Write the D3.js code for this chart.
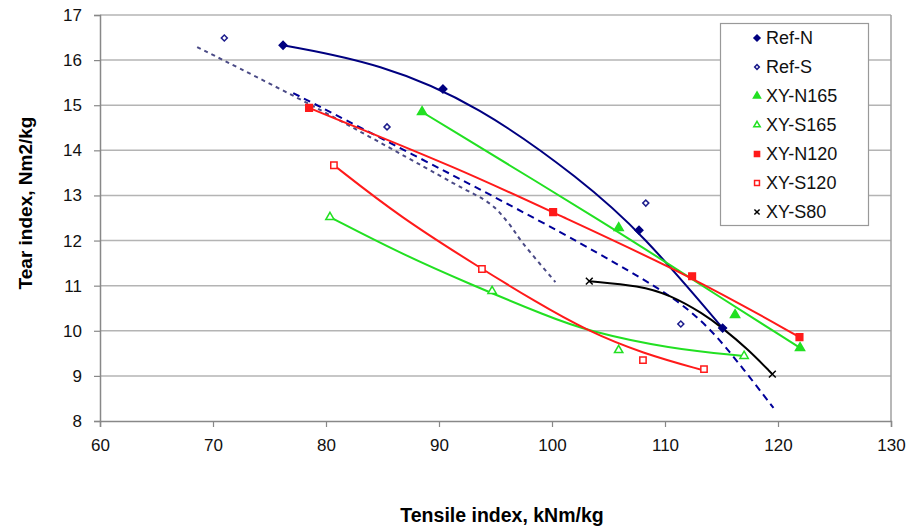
<!DOCTYPE html>
<html>
<head>
<meta charset="utf-8">
<script src="https://cdn.jsdelivr.net/npm/d3@7"></script>
<style>
  body { margin: 0; background: #fff; }
  text { font-family: "Liberation Sans", Arial, sans-serif; }
</style>
</head>
<body>
<script>
// chart size
var width = 914;
var height = 528;
var margin = {top: 15, right: 23, bottom: 107, left: 100};

// axis ticks
var xTicks = [60, 70, 80, 90, 100, 110, 120, 130];
var yTicks = [8, 9, 10, 11, 12, 13, 14, 15, 16, 17];

// measured points, [tensile, tear]
var refN = [[76.2, 16.33], [90.35, 15.36], [107.7, 12.23], [115.1, 10.06]];
var refS = [[71.0, 16.49], [85.4, 14.52], [108.3, 12.83], [111.4, 10.15]];
var xyN165 = [[88.5, 14.85], [105.9, 12.28], [116.2, 10.35], [121.95, 9.62]];
var xyS165 = [[80.35, 12.52], [94.7, 10.88], [105.9, 9.57], [117.0, 9.44]];
var xyN120 = [[78.5, 14.94], [100.1, 12.63], [112.4, 11.21], [121.9, 9.86]];
var xyS120 = [[80.7, 13.67], [93.8, 11.37], [108.05, 9.35], [113.45, 9.15]];
var xyS80 = [[103.3, 11.1], [119.5, 9.04]];

// trend lines
var trendRefN = [[76.2, 16.33], [84.8, 15.93], [93.5, 15.0], [102.6, 13.35], [108, 12.15], [115.1, 10.06]];
var trendRefS1 = [[68.6, 16.29], [78.85, 14.98], [91.2, 13.28], [94.6, 12.8], [96.1, 12.4], [97.4, 11.95], [100.3, 11.08]];
var trendRefS2 = [[77.1, 15.27], [92.1, 13.34], [101.3, 12.12], [107, 11.3], [111, 10.7], [114.0, 10.06], [116.8, 9.2], [119.6, 8.29]];
var trendN165 = [[88.5, 14.85], [105.9, 12.2], [110.7, 11.41], [121.95, 9.62]];
var trendS165 = [[80.35, 12.52], [86.55, 11.72], [92.5, 11.06], [99.8, 10.3], [103.1, 10.0], [110.4, 9.6], [117.0, 9.44]];
var trendN120 = [[78.5, 14.94], [92.1, 13.56], [100.1, 12.62], [112.4, 11.2], [121.9, 9.86]];
var trendS120 = [[80.7, 13.67], [86.55, 12.52], [93.8, 11.37], [98.5, 10.65], [103.1, 10.0], [108, 9.5], [113.45, 9.12]];
var trendS80 = [[103.3, 11.1], [107.8, 11.0], [110.4, 10.8], [113.4, 10.38], [115.1, 10.06], [117.3, 9.6], [119.5, 9.04]];

var legendNames = ['Ref-N', 'Ref-S', 'XY-N165', 'XY-S165', 'XY-N120', 'XY-S120', 'XY-S80'];

var navy = '#000080';
var green = '#22e022';
var red = '#ff1a1a';

var svg = d3.select('body')
  .append('svg')
  .attr('width', width)
  .attr('height', height);

var x = d3.scaleLinear().domain([60, 130]).range([margin.left, width - margin.right]);
var y = d3.scaleLinear().domain([8, 17]).range([height - margin.bottom, margin.top]);

// gridlines
svg.append('g')
  .selectAll('line')
  .data(yTicks.slice(1))
  .enter()
  .append('line')
  .attr('x1', x(60))
  .attr('x2', x(130))
  .attr('y1', function(d) { return y(d); })
  .attr('y2', function(d) { return y(d); })
  .attr('stroke', '#b4b4b4')
  .attr('stroke-width', 1.5);

// right border of plot area
svg.append('line')
  .attr('x1', x(130)).attr('x2', x(130))
  .attr('y1', y(17)).attr('y2', y(8))
  .attr('stroke', '#a0a0a0')
  .attr('stroke-width', 1.5);

// axes
var xAxis = svg.append('g')
  .attr('transform', 'translate(0,' + y(8) + ')')
  .call(d3.axisBottom(x).tickValues(xTicks).tickSize(6).tickPadding(12));
var yAxis = svg.append('g')
  .attr('transform', 'translate(' + x(60) + ',0)')
  .call(d3.axisLeft(y).tickValues(yTicks).tickSize(6).tickPadding(12));

[xAxis, yAxis].forEach(function(a) {
  a.select('.domain').attr('stroke', '#888').attr('stroke-width', 1.5);
  a.selectAll('.tick line').attr('stroke', '#888').attr('stroke-width', 1.2);
  a.selectAll('.tick text')
    .attr('fill', '#111')
    .style('font-size', '17px')
    .style('font-family', '"Liberation Sans", Arial, sans-serif');
});

// axis titles
svg.append('text')
  .attr('x', 502)
  .attr('y', 522)
  .attr('text-anchor', 'middle')
  .style('font-size', '19.5px')
  .style('font-weight', 'bold')
  .text('Tensile index, kNm/kg');

svg.append('text')
  .attr('transform', 'translate(32,203) rotate(-90)')
  .attr('text-anchor', 'middle')
  .style('font-size', '19px')
  .style('font-weight', 'bold')
  .text('Tear index, Nm2/kg');

// trend lines
var smooth = d3.line()
  .x(function(d) { return x(d[0]); })
  .y(function(d) { return y(d[1]); })
  .curve(d3.curveBasis);
var bent = d3.line()
  .x(function(d) { return x(d[0]); })
  .y(function(d) { return y(d[1]); })
  .curve(d3.curveCatmullRom);

var trends = [
  {data: trendRefS1, color: '#4a4a86', dash: '4,4', gen: bent},
  {data: trendRefS2, color: '#000099', dash: '7,5', gen: smooth},
  {data: trendRefN, color: navy, dash: null, gen: smooth},
  {data: trendN165, color: green, dash: null, gen: smooth},
  {data: trendS165, color: green, dash: null, gen: smooth},
  {data: trendN120, color: red, dash: null, gen: smooth},
  {data: trendS120, color: red, dash: null, gen: smooth},
  {data: trendS80, color: '#000', dash: null, gen: smooth}
];

svg.append('g')
  .selectAll('path')
  .data(trends)
  .enter()
  .append('path')
  .attr('d', function(d) { return d.gen(d.data); })
  .attr('fill', 'none')
  .attr('stroke', function(d) { return d.color; })
  .attr('stroke-width', 2)
  .attr('stroke-dasharray', function(d) { return d.dash; });

// marker drawing
var markerStyles = {
  'Ref-N': {shape: d3.symbolSquare, size: 30, rot: 45, fill: navy, stroke: navy},
  'Ref-S': {shape: d3.symbolSquare, size: 18, rot: 45, fill: '#fff', stroke: '#1c1c8c'},
  'XY-N165': {shape: d3.symbolTriangle, size: 36, rot: 0, fill: green, stroke: green},
  'XY-S165': {shape: d3.symbolTriangle, size: 30, rot: 0, fill: '#fff', stroke: green},
  'XY-N120': {shape: d3.symbolSquare, size: 44, rot: 0, fill: red, stroke: red},
  'XY-S120': {shape: d3.symbolSquare, size: 40, rot: 0, fill: '#fff', stroke: red},
  'XY-S80': {shape: d3.symbolTimes, size: 32, rot: 0, fill: 'none', stroke: '#000'}
};

var seriesData = [refN, refS, xyN165, xyS165, xyN120, xyS120, xyS80];

var drawMarker = function(sel, name, scale) {
  var s = markerStyles[name];
  sel.attr('d', d3.symbol().type(s.shape).size(s.size * (scale || 1))())
    .attr('fill', s.fill)
    .attr('stroke', s.stroke)
    .attr('stroke-width', 1.5);
};

legendNames.forEach(function(name, i) {
  svg.append('g')
    .selectAll('path')
    .data(seriesData[i])
    .enter()
    .append('path')
    .attr('transform', function(d) {
      return 'translate(' + x(d[0]) + ',' + y(d[1]) + ') rotate(' + markerStyles[name].rot + ')';
    })
    .call(drawMarker, name);
});

// legend
var legend = svg.append('g');
legend.append('rect')
  .attr('x', 720.5).attr('y', 23.5)
  .attr('width', 148).attr('height', 202)
  .attr('fill', '#fff')
  .attr('stroke', '#999')
  .attr('stroke-width', 1.2);

var item = legend.selectAll('g.item')
  .data(legendNames)
  .enter()
  .append('g')
  .attr('class', 'item')
  .attr('transform', function(d, i) { return 'translate(757,' + (38 + i * 29) + ')'; });

item.append('path')
  .attr('transform', function(d) { return 'rotate(' + markerStyles[d].rot + ')'; })
  .each(function(d) {
    d3.select(this).call(drawMarker, d, 0.6);
  });
item.append('text')
  .attr('x', 9)
  .attr('dy', '0.35em')
  .style('font-size', '18px')
  .attr('fill', '#111')
  .text(function(d) { return d; });
</script>
</body>
</html>
